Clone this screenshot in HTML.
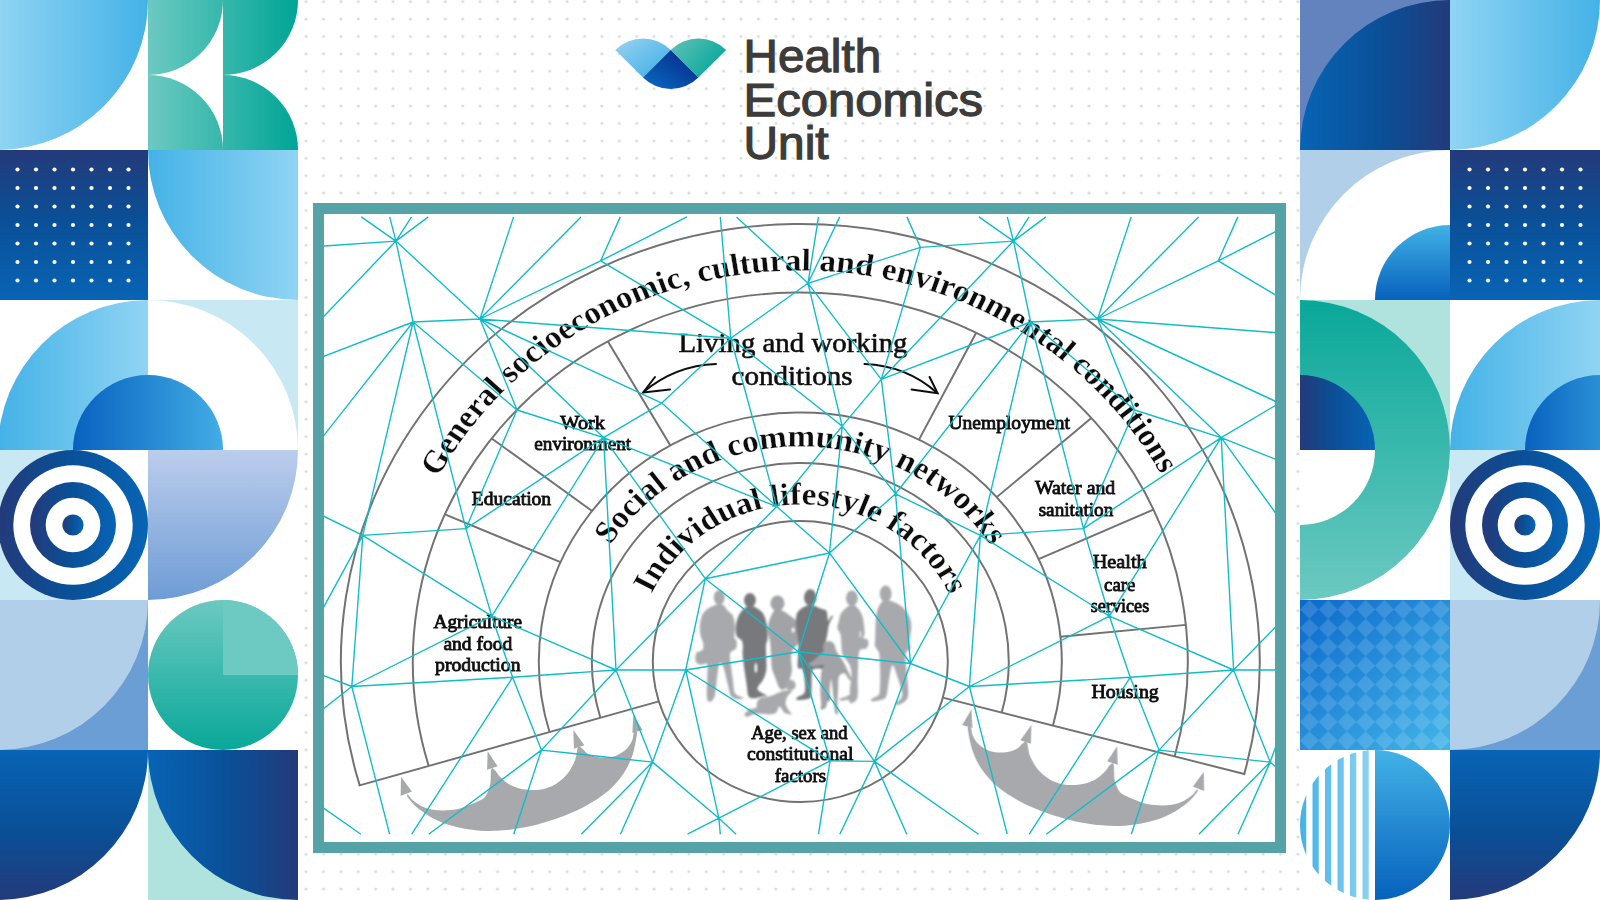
<!DOCTYPE html>
<html><head><meta charset="utf-8"><title>Health Economics Unit</title>
<style>html,body{margin:0;padding:0;background:#fff;overflow:hidden}svg{display:block}text{font-family:"Liberation Serif",serif}.lg text{font-family:"Liberation Sans",sans-serif}</style></head><body>
<svg width="1600" height="900" viewBox="0 0 1600 900">

<defs>
 <linearGradient id="gLB" x1="0" x2="1" y1="0" y2="0"><stop offset="0" stop-color="#90d4f3"/><stop offset="1" stop-color="#44b2e7"/></linearGradient>
 <linearGradient id="gLBr" x1="0" x2="1" y1="0" y2="0"><stop offset="0" stop-color="#44b2e7"/><stop offset="1" stop-color="#90d4f3"/></linearGradient>
 <linearGradient id="gTealH" x1="0" x2="1" y1="0" y2="0"><stop offset="0" stop-color="#6cc9c1"/><stop offset="1" stop-color="#00a596"/></linearGradient>
 <linearGradient id="gTealV" x1="0" x2="0" y1="0" y2="1"><stop offset="0" stop-color="#6cc9c1"/><stop offset="1" stop-color="#09a899"/></linearGradient>
 <linearGradient id="gTealVr" x1="0" x2="0" y1="0" y2="1"><stop offset="0" stop-color="#09a899"/><stop offset="1" stop-color="#6cc9c1"/></linearGradient>
 <linearGradient id="gNavyV" x1="0" x2="0" y1="0" y2="1"><stop offset="0" stop-color="#243a7a"/><stop offset="0.45" stop-color="#0a4f96"/><stop offset="1" stop-color="#0864b5"/></linearGradient>
 <linearGradient id="gNavyVr" x1="0" x2="0" y1="0" y2="1"><stop offset="0" stop-color="#0864b5"/><stop offset="0.55" stop-color="#0a4f96"/><stop offset="1" stop-color="#243a7a"/></linearGradient>
 <linearGradient id="gNavyH" x1="0" x2="1" y1="0" y2="0"><stop offset="0" stop-color="#243a7a"/><stop offset="0.45" stop-color="#0a4f96"/><stop offset="1" stop-color="#0864b5"/></linearGradient>
 <linearGradient id="gNavyHr" x1="0" x2="1" y1="0" y2="0"><stop offset="0" stop-color="#0864b5"/><stop offset="0.55" stop-color="#0a4f96"/><stop offset="1" stop-color="#243a7a"/></linearGradient>
 <linearGradient id="gBlueH" x1="0" x2="1" y1="0" y2="0"><stop offset="0" stop-color="#0861bf"/><stop offset="1" stop-color="#42ade5"/></linearGradient>
 <linearGradient id="gBlueV" x1="0" x2="0" y1="0" y2="1"><stop offset="0" stop-color="#42b2e6"/><stop offset="1" stop-color="#0661bc"/></linearGradient>
 <linearGradient id="gPeriV" x1="0" x2="0" y1="0" y2="1"><stop offset="0" stop-color="#bccdec"/><stop offset="1" stop-color="#6d9cd5"/></linearGradient>
 <linearGradient id="gDiag" x1="0" x2="1" y1="0" y2="1"><stop offset="0" stop-color="#0a68cb"/><stop offset="1" stop-color="#43b6e8"/></linearGradient>
 <pattern id="pDia" x="1300" y="600" width="18.75" height="18.75" patternUnits="userSpaceOnUse"><path d="M9.375 0L18.75 9.375L9.375 18.75L0 9.375Z" fill="#fff" fill-opacity="0.14"/></pattern>
 <pattern id="pDots" x="1.6" y="-7.1" width="17.4" height="17.4" patternUnits="userSpaceOnUse"><circle cx="8.7" cy="8.7" r="1.55" fill="#dbdbdb"/></pattern>
 <linearGradient id="gLogoL" x1="0" x2="1" y1="0" y2="1"><stop offset="0" stop-color="#9ad3f1"/><stop offset="1" stop-color="#38ade6"/></linearGradient>
 <linearGradient id="gLogoR" x1="0" x2="1" y1="0" y2="0.6"><stop offset="0" stop-color="#63c3b8"/><stop offset="1" stop-color="#07a69a"/></linearGradient>
 <linearGradient id="gLogoD" x1="0" x2="1" y1="1" y2="0"><stop offset="0" stop-color="#0a6cc6"/><stop offset="0.6" stop-color="#07409c"/><stop offset="1" stop-color="#0a2d8a"/></linearGradient>
 <clipPath id="cFrame"><rect x="324" y="214" width="951" height="628"/></clipPath>
</defs>


<defs>
 <linearGradient id="gTK" gradientUnits="userSpaceOnUse" x1="148" x2="298" y1="0" y2="0"><stop offset="0" stop-color="#6cc9c1"/><stop offset="1" stop-color="#00a596"/></linearGradient>
 <linearGradient id="gLBr2" x1="0" x2="1" y1="0" y2="0"><stop offset="0" stop-color="#4cb4e8"/><stop offset="1" stop-color="#a3dbf5"/></linearGradient>
 <linearGradient id="gBlueH2" x1="0" x2="1" y1="0" y2="0"><stop offset="0" stop-color="#0861bf"/><stop offset="1" stop-color="#2b90d6"/></linearGradient>
 <linearGradient id="gTealVr2" gradientUnits="userSpaceOnUse" x1="0" x2="0" y1="300" y2="600"><stop offset="0" stop-color="#09a899"/><stop offset="1" stop-color="#6cc9c1"/></linearGradient>
 <linearGradient id="gStripe" gradientUnits="userSpaceOnUse" x1="1300" x2="1375" y1="0" y2="0"><stop offset="0" stop-color="#44b2e7"/><stop offset="1" stop-color="#90d4f3"/></linearGradient>
</defs>

<rect x="0" y="0" width="1600" height="900" fill="#fff"/>
<rect x="298" y="0" width="1002" height="900" fill="url(#pDots)"/>
<rect x="-2" y="0" width="300" height="900" fill="#fff"/>
<path d="M-2 0L148 0A150 150 0 0 1 -2 150Z" fill="url(#gLB)"/>
<path d="M148 0L223 0A75 75 0 0 1 148 75Z" fill="url(#gTK)"/>
<path d="M148 150L223 150A75 75 0 0 0 148 75Z" fill="url(#gTK)"/>
<path d="M223 0L298 0A75 75 0 0 1 223 75Z" fill="url(#gTK)"/>
<path d="M223 150L298 150A75 75 0 0 0 223 75Z" fill="url(#gTK)"/>
<rect x="-2" y="150" width="150" height="150" fill="url(#gNavyV)"/><circle cx="17.5" cy="169.5" r="2.1" fill="#fff"/><circle cx="17.5" cy="188" r="2.1" fill="#fff"/><circle cx="17.5" cy="206.5" r="2.1" fill="#fff"/><circle cx="17.5" cy="225" r="2.1" fill="#fff"/><circle cx="17.5" cy="243.5" r="2.1" fill="#fff"/><circle cx="17.5" cy="262" r="2.1" fill="#fff"/><circle cx="17.5" cy="280.5" r="2.1" fill="#fff"/><circle cx="36" cy="169.5" r="2.1" fill="#fff"/><circle cx="36" cy="188" r="2.1" fill="#fff"/><circle cx="36" cy="206.5" r="2.1" fill="#fff"/><circle cx="36" cy="225" r="2.1" fill="#fff"/><circle cx="36" cy="243.5" r="2.1" fill="#fff"/><circle cx="36" cy="262" r="2.1" fill="#fff"/><circle cx="36" cy="280.5" r="2.1" fill="#fff"/><circle cx="54.5" cy="169.5" r="2.1" fill="#fff"/><circle cx="54.5" cy="188" r="2.1" fill="#fff"/><circle cx="54.5" cy="206.5" r="2.1" fill="#fff"/><circle cx="54.5" cy="225" r="2.1" fill="#fff"/><circle cx="54.5" cy="243.5" r="2.1" fill="#fff"/><circle cx="54.5" cy="262" r="2.1" fill="#fff"/><circle cx="54.5" cy="280.5" r="2.1" fill="#fff"/><circle cx="73" cy="169.5" r="2.1" fill="#fff"/><circle cx="73" cy="188" r="2.1" fill="#fff"/><circle cx="73" cy="206.5" r="2.1" fill="#fff"/><circle cx="73" cy="225" r="2.1" fill="#fff"/><circle cx="73" cy="243.5" r="2.1" fill="#fff"/><circle cx="73" cy="262" r="2.1" fill="#fff"/><circle cx="73" cy="280.5" r="2.1" fill="#fff"/><circle cx="91.5" cy="169.5" r="2.1" fill="#fff"/><circle cx="91.5" cy="188" r="2.1" fill="#fff"/><circle cx="91.5" cy="206.5" r="2.1" fill="#fff"/><circle cx="91.5" cy="225" r="2.1" fill="#fff"/><circle cx="91.5" cy="243.5" r="2.1" fill="#fff"/><circle cx="91.5" cy="262" r="2.1" fill="#fff"/><circle cx="91.5" cy="280.5" r="2.1" fill="#fff"/><circle cx="110" cy="169.5" r="2.1" fill="#fff"/><circle cx="110" cy="188" r="2.1" fill="#fff"/><circle cx="110" cy="206.5" r="2.1" fill="#fff"/><circle cx="110" cy="225" r="2.1" fill="#fff"/><circle cx="110" cy="243.5" r="2.1" fill="#fff"/><circle cx="110" cy="262" r="2.1" fill="#fff"/><circle cx="110" cy="280.5" r="2.1" fill="#fff"/><circle cx="128.5" cy="169.5" r="2.1" fill="#fff"/><circle cx="128.5" cy="188" r="2.1" fill="#fff"/><circle cx="128.5" cy="206.5" r="2.1" fill="#fff"/><circle cx="128.5" cy="225" r="2.1" fill="#fff"/><circle cx="128.5" cy="243.5" r="2.1" fill="#fff"/><circle cx="128.5" cy="262" r="2.1" fill="#fff"/><circle cx="128.5" cy="280.5" r="2.1" fill="#fff"/>
<path d="M298 150L148 150A150 150 0 0 0 298 300Z" fill="url(#gLBr)"/>
<path d="M148 450L-2 450A150 150 0 0 1 148 300Z" fill="url(#gLBr)"/>
<rect x="148" y="300" width="150" height="150" fill="#c8e8f4"/>
<path d="M148 450L298 450A150 150 0 0 0 148 300Z" fill="#fff"/>
<path d="M73 450A75 75 0 0 1 223 450Z" fill="url(#gBlueH)"/>
<rect x="-2" y="450" width="75" height="150" fill="#c8e8f4"/><rect x="73" y="450" width="75" height="150" fill="#fff"/><circle cx="73" cy="525" r="75" fill="url(#gNavyH)"/><circle cx="73" cy="525" r="59.7" fill="#fff"/><circle cx="73" cy="525" r="43" fill="url(#gNavyH)"/><circle cx="73" cy="525" r="27.3" fill="#fff"/><circle cx="73" cy="525" r="10.6" fill="url(#gNavyH)"/>
<path d="M148 450L298 450A150 150 0 0 1 148 600Z" fill="url(#gPeriV)"/>
<rect x="-2" y="600" width="150" height="150" fill="#6b9ed5"/>
<path d="M-2 600L148 600A150 150 0 0 1 -2 750Z" fill="#b2cfea"/>
<circle cx="223" cy="675" r="75" fill="url(#gTealV)"/>
<path d="M223 675L298 675A75 75 0 0 0 223 600Z" fill="#6ccac3"/>
<path d="M-2 750L148 750A150 150 0 0 1 -2 900Z" fill="url(#gNavyVr)"/>
<rect x="148" y="750" width="150" height="150" fill="#b1e3de"/>
<path d="M298 750L148 750A150 150 0 0 0 298 900Z" fill="url(#gNavyHr)"/>
<rect x="1300" y="0" width="300" height="900" fill="#fff"/>
<rect x="1300" y="0" width="150" height="150" fill="#6283bd"/>
<path d="M1450 150L1300 150A150 150 0 0 1 1450 0Z" fill="url(#gNavyHr)"/>
<path d="M1450 0L1600 0A150 150 0 0 1 1450 150Z" fill="url(#gLB)"/>
<rect x="1300" y="150" width="150" height="150" fill="#b2cfea"/>
<path d="M1450 300L1300 300A150 150 0 0 1 1450 150Z" fill="#fff"/>
<path d="M1450 300L1375 300A75 75 0 0 1 1450 225Z" fill="url(#gBlueV)"/>
<rect x="1450" y="150" width="150" height="150" fill="url(#gNavyV)"/><circle cx="1469.5" cy="169.5" r="2.1" fill="#fff"/><circle cx="1469.5" cy="188" r="2.1" fill="#fff"/><circle cx="1469.5" cy="206.5" r="2.1" fill="#fff"/><circle cx="1469.5" cy="225" r="2.1" fill="#fff"/><circle cx="1469.5" cy="243.5" r="2.1" fill="#fff"/><circle cx="1469.5" cy="262" r="2.1" fill="#fff"/><circle cx="1469.5" cy="280.5" r="2.1" fill="#fff"/><circle cx="1488" cy="169.5" r="2.1" fill="#fff"/><circle cx="1488" cy="188" r="2.1" fill="#fff"/><circle cx="1488" cy="206.5" r="2.1" fill="#fff"/><circle cx="1488" cy="225" r="2.1" fill="#fff"/><circle cx="1488" cy="243.5" r="2.1" fill="#fff"/><circle cx="1488" cy="262" r="2.1" fill="#fff"/><circle cx="1488" cy="280.5" r="2.1" fill="#fff"/><circle cx="1506.5" cy="169.5" r="2.1" fill="#fff"/><circle cx="1506.5" cy="188" r="2.1" fill="#fff"/><circle cx="1506.5" cy="206.5" r="2.1" fill="#fff"/><circle cx="1506.5" cy="225" r="2.1" fill="#fff"/><circle cx="1506.5" cy="243.5" r="2.1" fill="#fff"/><circle cx="1506.5" cy="262" r="2.1" fill="#fff"/><circle cx="1506.5" cy="280.5" r="2.1" fill="#fff"/><circle cx="1525" cy="169.5" r="2.1" fill="#fff"/><circle cx="1525" cy="188" r="2.1" fill="#fff"/><circle cx="1525" cy="206.5" r="2.1" fill="#fff"/><circle cx="1525" cy="225" r="2.1" fill="#fff"/><circle cx="1525" cy="243.5" r="2.1" fill="#fff"/><circle cx="1525" cy="262" r="2.1" fill="#fff"/><circle cx="1525" cy="280.5" r="2.1" fill="#fff"/><circle cx="1543.5" cy="169.5" r="2.1" fill="#fff"/><circle cx="1543.5" cy="188" r="2.1" fill="#fff"/><circle cx="1543.5" cy="206.5" r="2.1" fill="#fff"/><circle cx="1543.5" cy="225" r="2.1" fill="#fff"/><circle cx="1543.5" cy="243.5" r="2.1" fill="#fff"/><circle cx="1543.5" cy="262" r="2.1" fill="#fff"/><circle cx="1543.5" cy="280.5" r="2.1" fill="#fff"/><circle cx="1562" cy="169.5" r="2.1" fill="#fff"/><circle cx="1562" cy="188" r="2.1" fill="#fff"/><circle cx="1562" cy="206.5" r="2.1" fill="#fff"/><circle cx="1562" cy="225" r="2.1" fill="#fff"/><circle cx="1562" cy="243.5" r="2.1" fill="#fff"/><circle cx="1562" cy="262" r="2.1" fill="#fff"/><circle cx="1562" cy="280.5" r="2.1" fill="#fff"/><circle cx="1580.5" cy="169.5" r="2.1" fill="#fff"/><circle cx="1580.5" cy="188" r="2.1" fill="#fff"/><circle cx="1580.5" cy="206.5" r="2.1" fill="#fff"/><circle cx="1580.5" cy="225" r="2.1" fill="#fff"/><circle cx="1580.5" cy="243.5" r="2.1" fill="#fff"/><circle cx="1580.5" cy="262" r="2.1" fill="#fff"/><circle cx="1580.5" cy="280.5" r="2.1" fill="#fff"/>
<rect x="1300" y="300" width="150" height="150" fill="#b1e3de"/>
<path d="M1300 450L1450 450A150 150 0 0 0 1300 300Z" fill="url(#gTealVr2)"/>
<path d="M1300 450L1375 450A75 75 0 0 0 1300 375Z" fill="url(#gNavyH)"/>
<path d="M1600 450L1450 450A150 150 0 0 1 1600 300Z" fill="url(#gLBr)"/>
<path d="M1600 450L1525 450A75 75 0 0 1 1600 375Z" fill="url(#gBlueH2)"/>
<path d="M1300 450L1450 450A150 150 0 0 1 1300 600Z" fill="url(#gTealVr2)"/>
<path d="M1300 450L1375 450A75 75 0 0 1 1300 525Z" fill="#fff"/>
<rect x="1450" y="450" width="75" height="150" fill="#c8e8f4"/><rect x="1525" y="450" width="75" height="150" fill="#fff"/><circle cx="1525" cy="525" r="75" fill="url(#gNavyH)"/><circle cx="1525" cy="525" r="59.7" fill="#fff"/><circle cx="1525" cy="525" r="43" fill="url(#gNavyH)"/><circle cx="1525" cy="525" r="27.3" fill="#fff"/><circle cx="1525" cy="525" r="10.6" fill="url(#gNavyH)"/>
<rect x="1300" y="600" width="150" height="150" fill="url(#gDiag)"/>
<rect x="1300" y="600" width="150" height="150" fill="url(#pDia)"/>
<rect x="1450" y="600" width="150" height="150" fill="#6b9ed5"/>
<path d="M1450 600L1600 600A150 150 0 0 1 1450 750Z" fill="#b2cfea"/>
<clipPath id="cStr"><circle cx="1375" cy="825" r="75"/></clipPath><g clip-path="url(#cStr)">
<rect x="1300" y="750" width="6.25" height="150" fill="url(#gStripe)"/>
<rect x="1312.5" y="750" width="6.25" height="150" fill="url(#gStripe)"/>
<rect x="1325" y="750" width="6.25" height="150" fill="url(#gStripe)"/>
<rect x="1337.5" y="750" width="6.25" height="150" fill="url(#gStripe)"/>
<rect x="1350" y="750" width="6.25" height="150" fill="url(#gStripe)"/>
<rect x="1362.5" y="750" width="6.25" height="150" fill="url(#gStripe)"/>
<rect x="1375" y="750" width="75" height="150" fill="url(#gBlueV)"/>
</g>
<path d="M1450 750L1600 750A150 150 0 0 1 1450 900Z" fill="url(#gNavyVr)"/>
<path d="M643 77.6L615.28 49.88A39.2 39.2 0 0 1 670.72 49.88Z" fill="url(#gLogoL)"/>
<path d="M698.4 77.6L670.68 49.88A39.2 39.2 0 0 1 726.12 49.88Z" fill="url(#gLogoR)"/>
<path d="M670.7 49.9L698.42 77.62A39.2 39.2 0 0 1 642.98 77.62Z" fill="url(#gLogoD)"/>
<g font-size="46" fill="#3c3c3b" stroke="#3c3c3b" stroke-width="1.25" class="lg"><text x="743.6" y="72" textLength="137.5" lengthAdjust="spacingAndGlyphs">Health</text><text x="743.6" y="115.5" textLength="239.5" lengthAdjust="spacingAndGlyphs">Economics</text><text x="743.6" y="159" textLength="85" lengthAdjust="spacingAndGlyphs">Unit</text></g>
<rect x="313" y="203" width="973" height="650" fill="#55a3a6"/>
<rect x="324" y="214" width="951" height="628" fill="#fff"/>
<g clip-path="url(#cFrame)">
<defs><filter id="fBlur1" x="-5%" y="-5%" width="110%" height="110%"><feGaussianBlur stdDeviation="0.85"/></filter><filter id="fBlur2" x="-5%" y="-5%" width="110%" height="110%"><feGaussianBlur stdDeviation="0.5"/></filter><filter id="fBlur3" x="-5%" y="-5%" width="110%" height="110%"><feGaussianBlur stdDeviation="0.45"/></filter></defs>
<g transform="translate(800.3 661.5) scale(1.05 1)">
<g fill="none" stroke="#727272" stroke-width="1.9" filter="url(#fBlur2)">
<path d="M-419.59 123.89A437.5 437.5 0 1 1 422.79 112.5"/>
<path d="M-353.9 104.49A369 369 0 1 1 356.59 94.88"/>
<path d="M-238.81 70.51A249 249 0 1 1 240.63 64.03"/>
<path d="M-190.37 56.21A198.5 198.5 0 1 1 191.83 51.04"/>
<circle cx="0" cy="0" r="140.5"/>
<path d="M-134.75 39.79L-420.55 124.17"/>
<path d="M135.78 36.13L423.76 112.75"/>
<path d="M-228.35 -99.29L-338.4 -147.14"/>
<path d="M-198.34 -150.55L-293.92 -223.1"/>
<path d="M-123.75 -216.07L-183.38 -320.21"/>
<path d="M113.04 -221.86L167.52 -328.78"/>
<path d="M187.06 -164.34L277.22 -243.54"/>
<path d="M226.94 -102.47L336.31 -151.85"/>
<path d="M247.77 -24.73L367.18 -36.65"/>
</g>
<defs>
<path id="tp1" d="M-344.91 -184.17A391 391 0 0 1 343.29 -187.17"/>
<path id="tp2" d="M-180.72 -116.47A215 215 0 0 1 181.13 -115.84"/>
<path id="tp3" d="M-141.59 -67.84A157 157 0 0 1 142.06 -66.85"/>
</defs>
<g font-weight="bold" font-size="31.5" fill="#0c0c0c" stroke="#fff" stroke-width="0.25" paint-order="fill stroke" filter="url(#fBlur3)">
<text textLength="841.43" lengthAdjust="spacing"><textPath href="#tp1" textLength="841.43" lengthAdjust="spacing">General socioeconomic, cultural and environmental conditions</textPath></text>
<text textLength="430.03" lengthAdjust="spacing"><textPath href="#tp2" textLength="430.03" lengthAdjust="spacing">Social and community networks</textPath></text>
<text textLength="354.03" lengthAdjust="spacing"><textPath href="#tp3" textLength="354.03" lengthAdjust="spacing">Individual lifestyle factors</textPath></text>
</g>
</g>
<g filter="url(#fBlur1)"><ellipse cx="719.26" cy="597.43" rx="5.45" ry="7.47" fill="#a7a9ac"/><path d="M715.37 604.9C712.28 605.94 707.25 608.53 704.79 611.13C702.32 613.72 701.36 616.84 700.58 620.47C699.81 624.1 699.68 629.03 700.12 632.92C700.56 636.81 702.84 640.96 703.23 643.81C703.62 646.67 703.62 648.48 702.45 650.04C701.28 651.6 697.32 651.21 696.23 653.15C695.14 655.1 695.14 659.77 695.91 661.71C696.69 663.66 699.03 664.44 700.89 664.82C702.76 665.21 706.03 662.62 707.12 664.05C708.21 665.47 707.48 669.23 707.43 673.39C707.38 677.54 706.81 684.54 706.81 688.95C706.81 693.36 706.73 697.77 707.43 699.84C708.13 701.92 709.77 702.18 711.01 701.4C712.26 700.62 713.87 699.33 714.9 695.18C715.94 691.02 716.46 681.82 717.24 676.5C718.02 671.18 718.53 664.82 719.57 663.27C720.61 661.71 722.04 663.4 723.46 667.16C724.89 670.92 726.91 681.04 728.13 685.84C729.35 690.64 729.35 693.75 730.78 695.95C732.2 698.16 734.54 698.73 736.69 699.07C738.85 699.4 743.96 698.88 743.7 697.98C743.44 697.07 736.95 696.68 735.14 693.62C733.32 690.56 733.53 684.54 732.8 679.61C732.08 674.68 731.22 668.46 730.78 664.05C730.34 659.64 729.3 655.75 730.16 653.15C731.01 650.56 734.82 650.43 735.91 648.48C737 646.54 736.95 643.29 736.69 641.48C736.43 639.66 734.62 640.05 734.36 637.59C734.1 635.12 735.4 630.32 735.14 626.69C734.88 623.06 734.1 618.52 732.8 615.8C731.5 613.07 728.94 612.17 727.35 610.35C725.77 608.53 725.3 605.81 723.31 604.9C721.31 603.99 718.46 603.87 715.37 604.9Z" fill="#a7a9ac"/><ellipse cx="777.47" cy="603.35" rx="7" ry="7.78" fill="#a1a3a6"/><path d="M775.29 609.57C772.96 611.13 770.62 616.84 769.38 620.47C768.13 624.1 767.69 627.73 767.82 631.36C767.95 634.99 769.64 638.63 770.16 642.26C770.67 645.89 770.67 649 770.93 653.15C771.19 657.3 771.06 663.27 771.71 667.16C772.36 671.05 773.4 672.87 774.82 676.5C776.25 680.13 778.33 687.13 780.27 688.95C782.22 690.77 784.94 688.95 786.5 687.39C788.05 685.84 788.7 682.46 789.61 679.61C790.52 676.76 791.69 673.39 791.95 670.27C792.2 667.16 791.17 664.05 791.17 660.93C791.17 657.82 790.65 654.71 791.95 651.6C793.24 648.48 797.21 645.63 798.95 642.26C800.69 638.88 802.37 634.47 802.37 631.36C802.37 628.25 800.82 626.04 798.95 623.58C797.08 621.12 793.76 618.65 791.17 616.58C788.57 614.5 786.03 612.3 783.39 611.13C780.74 609.96 777.63 608.02 775.29 609.57Z" fill="#a1a3a6"/><ellipse cx="793.19" cy="630.12" rx="1.4" ry="2.33" fill="#fff"/><ellipse cx="790.39" cy="685.06" rx="5.29" ry="5.29" fill="#a7a9ac"/><path d="M783.39 690.82C779.88 691.67 774.82 694.71 770.93 695.95C767.04 697.2 762.37 697.12 760.04 698.29C757.7 699.46 757.57 701.4 756.93 702.96C756.28 704.51 757.44 706.59 756.15 707.63C754.85 708.66 751.09 708.02 749.14 709.18C747.2 710.35 744.73 713.39 744.47 714.63C744.22 715.88 745.51 716.78 747.59 716.65C749.66 716.52 753.04 714.27 756.93 713.85C760.82 713.44 767.69 714.42 770.93 714.16C774.18 713.9 774.95 713.59 776.38 712.3C777.81 711 778.07 706.25 779.49 706.38C780.92 706.51 782.87 711.78 784.94 713.07C787.02 714.37 791.17 714.42 791.95 714.16C792.72 713.9 790.65 713.13 789.61 711.52C788.57 709.91 786.11 706.98 785.72 704.51C785.33 702.05 786.24 699.01 787.28 696.73C788.31 694.45 792.59 691.8 791.95 690.82C791.3 689.83 786.89 689.96 783.39 690.82Z" fill="#a7a9ac"/><ellipse cx="749.92" cy="600.23" rx="5.91" ry="7.16" fill="#77797d"/><path d="M746.96 606.46C744.68 607.63 741.65 610.35 739.81 613.46C737.96 616.58 736.43 621.37 735.91 625.14C735.4 628.9 735.78 633.57 736.69 636.03C737.6 638.5 740.32 638.37 741.36 639.92C742.4 641.48 742.71 642.91 742.92 645.37C743.13 647.83 742.35 650.56 742.61 654.71C742.87 658.86 743.77 665.08 744.47 670.27C745.18 675.46 746.16 681.56 746.81 685.84C747.46 690.12 747.2 693.88 748.37 695.95C749.53 698.03 751.61 698.21 753.81 698.29C756.02 698.37 759.39 696.81 761.6 696.42C763.8 696.03 767.43 696.81 767.04 695.95C766.65 695.1 760.82 692.71 759.26 691.28C757.7 689.86 757.06 689.34 757.7 687.39C758.35 685.45 761.73 682.46 763.15 679.61C764.58 676.76 765.75 673.9 766.26 670.27C766.78 666.64 766.32 661.97 766.26 657.82C766.21 653.67 765.75 648.48 765.95 645.37C766.16 642.26 767.33 642.26 767.51 639.14C767.69 636.03 767.77 630.97 767.04 626.69C766.32 622.41 765.41 616.84 763.15 613.46C760.89 610.09 756.2 607.63 753.5 606.46C750.8 605.29 749.25 605.29 746.96 606.46Z" fill="#77797d"/><ellipse cx="755.84" cy="667.94" rx="1.09" ry="4.67" fill="#fff"/><ellipse cx="810.22" cy="597.42" rx="6.22" ry="8.09" fill="#77797d"/><path d="M806.49 605.66C803.79 606.7 799.54 609.42 797.78 611.88C796.01 614.34 796.04 616.94 795.91 620.44C795.78 623.93 796.56 628.47 797 632.88C797.44 637.28 798.42 641.17 798.55 646.87C798.68 652.58 797.18 663.46 797.78 667.09C798.37 670.72 801.09 667.35 802.13 668.65C803.17 669.94 803.56 670.98 804 674.87C804.44 678.76 805.94 688.22 804.77 691.98C803.61 695.73 798.22 696.07 797 697.42C795.78 698.77 795.78 699.8 797.47 700.06C799.15 700.32 804.83 699.67 807.11 698.97C809.39 698.27 810.37 699.88 811.15 695.86C811.93 691.85 811.41 679.27 811.77 674.87C812.14 670.46 811.51 670.25 813.33 669.42C815.14 668.6 821.23 667.69 822.66 669.89C824.09 672.09 821.31 677.8 821.88 682.64C822.45 687.49 824.76 696.12 826.08 698.97C827.4 701.82 829.35 701.7 829.81 699.75C830.28 697.81 829.68 692.75 828.88 687.31C828.08 681.87 825.9 672.02 824.99 667.09C824.09 662.17 823.44 661.39 823.44 657.76C823.44 654.13 824.34 649.21 824.99 645.32C825.64 641.43 826.68 637.8 827.33 634.43C827.97 631.06 827.95 628.13 828.88 625.1C829.81 622.07 832.61 617.64 832.92 616.24C833.23 614.84 831.55 615.95 830.75 616.7C829.94 617.45 828.8 621.68 828.1 620.75C827.4 619.81 827.71 613.1 826.55 611.1C825.38 609.11 823.2 609.68 821.1 608.77C819 607.86 816.39 606.18 813.95 605.66C811.51 605.14 809.18 604.62 806.49 605.66Z" fill="#77797d"/><ellipse cx="851.9" cy="598.2" rx="5.91" ry="7.78" fill="#a7a9ac"/><path d="M849.25 605.66C846.95 606.83 843.03 610.2 841.32 612.66C839.61 615.12 839.64 617.84 838.99 620.44C838.34 623.03 837.17 625.88 837.43 628.21C837.69 630.54 839.9 631.58 840.54 634.43C841.19 637.28 841.06 642.21 841.32 645.32C841.58 648.43 841.58 651.02 842.1 653.09C842.62 655.17 843.27 655.95 844.43 657.76C845.6 659.57 847.93 661.39 849.1 663.98C850.26 666.57 851.3 669.17 851.43 673.31C851.56 677.46 850.26 685.24 849.88 688.86C849.49 692.49 850.78 693.4 849.1 695.09C847.41 696.77 841.06 698.04 839.77 698.97C838.47 699.91 839.9 700.55 841.32 700.68C842.75 700.81 846.89 699.39 848.32 699.75C849.75 700.11 848.97 702.45 849.88 702.86C850.78 703.28 852.47 703.28 853.76 702.24C855.06 701.2 857 700.17 857.65 696.64C858.3 693.12 857.57 686.01 857.65 681.09C857.73 676.16 857.99 670.98 858.12 667.09C858.25 663.2 858.12 660.61 858.43 657.76C858.74 654.91 858.69 651.54 859.98 649.98C861.28 648.43 864.78 649.47 866.21 648.43C867.63 647.39 868.41 645.32 868.54 643.76C868.67 642.21 867.89 640.01 866.98 639.1C866.08 638.19 863.48 639.36 863.09 638.32C862.71 637.28 864.65 636.12 864.65 632.88C864.65 629.64 863.87 622.51 863.09 618.88C862.32 615.25 861.31 613.31 859.98 611.1C858.66 608.9 856.95 606.57 855.16 605.66C853.37 604.75 851.56 604.49 849.25 605.66Z" fill="#a7a9ac"/><ellipse cx="860.3" cy="634.12" rx="0.62" ry="3.42" fill="#fff"/><ellipse cx="828.88" cy="646.87" rx="5.91" ry="5.91" fill="#a1a3a6"/><path d="M823.44 651.54C820.12 654.39 815.79 658.8 813.33 660.87C810.87 662.94 808.66 663.05 808.66 663.98C808.66 664.91 810.87 666.31 813.33 666.47C815.79 666.63 822.14 663.77 823.44 664.91C824.73 666.05 821.62 669.32 821.1 673.31C820.59 677.3 820.33 683.68 820.33 688.86C820.33 694.05 821.1 701.05 821.1 704.42C821.1 707.79 819.68 708.41 820.33 709.08C820.97 709.76 823.83 709.5 824.99 708.46C826.16 707.42 826.55 706.13 827.33 702.86C828.1 699.6 829.01 692.75 829.66 688.86C830.31 684.98 830.57 677.98 831.21 679.53C831.86 681.09 832.9 692.75 833.55 698.2C834.19 703.64 834.32 709.6 835.1 712.19C835.88 714.78 837.82 715.04 838.21 713.75C838.6 712.45 837.43 708.82 837.43 704.42C837.43 700.01 837.95 691.98 838.21 687.31C838.47 682.64 837.95 678.76 838.99 676.42C840.03 674.09 842.75 672.79 844.43 673.31C846.12 673.83 847.91 678.5 849.1 679.53C850.29 680.57 851.85 681.09 851.59 679.53C851.33 677.98 848.99 673.31 847.54 670.2C846.09 667.09 844.69 663.98 842.88 660.87C841.06 657.76 838.26 654.39 836.66 651.54C835.05 648.69 835.44 643.76 833.23 643.76C831.03 643.76 826.75 648.69 823.44 651.54Z" fill="#a1a3a6"/><ellipse cx="885.65" cy="593.69" rx="5.91" ry="8.09" fill="#a7a9ac"/><path d="M883 601C880.8 602.29 879.06 605.79 877.87 608.77C876.68 611.75 876.29 613.83 875.85 618.88C875.41 623.93 875.41 634.69 875.23 639.1C875.04 643.5 874.32 643.37 874.76 645.32C875.2 647.26 877.09 649.21 877.87 650.76C878.65 652.32 879.04 650.89 879.42 654.65C879.81 658.41 880.12 667.61 880.2 673.31C880.28 679.02 880.15 685.24 879.89 688.86C879.63 692.49 880.02 693.4 878.65 695.09C877.27 696.77 872.69 697.94 871.65 698.97C870.61 700.01 870.74 701.18 872.43 701.31C874.11 701.44 879.42 700.66 881.76 699.75C884.09 698.84 885.13 699.75 886.42 695.86C887.72 691.98 888.5 681.53 889.53 676.42C890.57 671.32 891.35 665.23 892.64 665.23C893.94 665.23 895.75 671.96 897.31 676.42C898.86 680.88 901.33 688.35 901.98 691.98C902.62 695.6 902.23 696.38 901.2 698.2C900.16 700.01 896.4 701.67 895.75 702.86C895.11 704.05 895.75 705.61 897.31 705.35C898.86 705.09 903.27 703.02 905.09 701.31C906.9 699.6 907.81 698.71 908.2 695.09C908.58 691.46 907.81 684.72 907.42 679.53C907.03 674.35 906.12 668.39 905.86 663.98C905.6 659.57 905.09 655.69 905.86 653.09C906.64 650.5 909.93 650.24 910.53 648.43C911.12 646.61 909.31 645.84 909.44 642.21C909.57 638.58 911.38 631.06 911.31 626.66C911.23 622.25 910.53 619.09 908.97 615.77C907.42 612.45 904.96 609.21 901.98 606.75C898.99 604.29 894.25 601.95 891.09 601C887.93 600.04 885.2 599.7 883 601Z" fill="#a7a9ac"/></g>
<g filter="url(#fBlur3)">
<path d="M406.95 795.71C407.27 796.61 408.53 798.36 409.93 800.08C411.33 801.8 413.34 804.16 415.35 806.03C417.36 807.9 419.55 809.5 422 811.28C424.45 813.06 426.93 814.93 430.05 816.71C433.17 818.49 437.4 820.53 440.73 821.96C444.05 823.39 446.24 824.17 450 825.28C453.77 826.39 459.07 827.79 463.3 828.61C467.53 829.42 471.18 829.8 475.38 830.18C479.58 830.56 482.23 831.06 488.51 830.88C494.78 830.71 504.84 830.21 513.01 829.13C521.17 828.05 529.05 826.59 537.51 824.41C545.97 822.22 555.59 819.16 563.76 816.01C571.93 812.86 579.22 809.59 586.51 805.51C593.8 801.42 601.39 796.76 607.51 791.51C613.64 786.25 619.18 779.84 623.26 774C627.35 768.17 629.91 762.05 632.01 756.5C634.11 750.96 635.05 744.84 635.86 740.75C636.68 736.67 637.26 733.31 636.91 732C636.56 730.69 634.58 731.42 633.76 732.88C632.95 734.34 633.33 737.98 632.01 740.75C630.7 743.52 628.8 746.94 625.89 749.5C622.97 752.07 618.74 754.84 614.51 756.15C610.28 757.47 604.89 757.76 600.51 757.38C596.14 757 591.47 755.48 588.26 753.88C585.05 752.27 583.01 748.77 581.26 747.75C579.51 746.73 578.78 745.71 577.76 747.75C576.74 749.79 576.88 755.63 575.13 760C573.38 764.38 570.61 769.92 567.26 774C563.91 778.09 559.38 781.94 555.01 784.5C550.63 787.07 545.97 788.59 541.01 789.4C536.05 790.22 530.22 790.08 525.26 789.4C520.3 788.73 515.34 787.36 511.26 785.38C507.17 783.4 503.53 780.13 500.76 777.5C497.99 774.88 496.23 770.94 494.63 769.63C493.03 768.32 491.86 767.15 491.13 769.63C490.4 772.11 491.22 780.04 490.26 784.5C489.29 788.97 487.4 793.61 485.36 796.41C483.31 799.21 480.57 799.93 478 801.31C475.44 802.68 473.51 803.29 469.95 804.63C466.4 805.97 461.09 808.39 456.65 809.36C452.22 810.32 447.35 810.35 443.35 810.41C439.36 810.46 435.8 810.17 432.68 809.71C429.56 809.24 427.08 808.57 424.63 807.61C422.18 806.64 420.08 805.3 417.98 803.93C415.88 802.56 413.69 800.93 412.03 799.38C410.36 797.83 408.85 795.27 408 794.66C407.16 794.04 406.63 794.8 406.95 795.71Z" fill="#a7a9ac"/><path d="M401 776.63L400.65 795.88L411.85 791.51Z" fill="#a7a9ac"/><path d="M487.63 751.25L487.11 769.63L497.61 766.13Z" fill="#a7a9ac"/><path d="M573.38 729.9L573.91 748.63L584.41 745.13Z" fill="#a7a9ac"/><path d="M633.41 714.5L632.36 732.88L642.51 729.9Z" fill="#a7a9ac"/>
<g transform="translate(1604.8 -5) scale(-1 1)"><path d="M406.95 795.71C407.27 796.61 408.53 798.36 409.93 800.08C411.33 801.8 413.34 804.16 415.35 806.03C417.36 807.9 419.55 809.5 422 811.28C424.45 813.06 426.93 814.93 430.05 816.71C433.17 818.49 437.4 820.53 440.73 821.96C444.05 823.39 446.24 824.17 450 825.28C453.77 826.39 459.07 827.79 463.3 828.61C467.53 829.42 471.18 829.8 475.38 830.18C479.58 830.56 482.23 831.06 488.51 830.88C494.78 830.71 504.84 830.21 513.01 829.13C521.17 828.05 529.05 826.59 537.51 824.41C545.97 822.22 555.59 819.16 563.76 816.01C571.93 812.86 579.22 809.59 586.51 805.51C593.8 801.42 601.39 796.76 607.51 791.51C613.64 786.25 619.18 779.84 623.26 774C627.35 768.17 629.91 762.05 632.01 756.5C634.11 750.96 635.05 744.84 635.86 740.75C636.68 736.67 637.26 733.31 636.91 732C636.56 730.69 634.58 731.42 633.76 732.88C632.95 734.34 633.33 737.98 632.01 740.75C630.7 743.52 628.8 746.94 625.89 749.5C622.97 752.07 618.74 754.84 614.51 756.15C610.28 757.47 604.89 757.76 600.51 757.38C596.14 757 591.47 755.48 588.26 753.88C585.05 752.27 583.01 748.77 581.26 747.75C579.51 746.73 578.78 745.71 577.76 747.75C576.74 749.79 576.88 755.63 575.13 760C573.38 764.38 570.61 769.92 567.26 774C563.91 778.09 559.38 781.94 555.01 784.5C550.63 787.07 545.97 788.59 541.01 789.4C536.05 790.22 530.22 790.08 525.26 789.4C520.3 788.73 515.34 787.36 511.26 785.38C507.17 783.4 503.53 780.13 500.76 777.5C497.99 774.88 496.23 770.94 494.63 769.63C493.03 768.32 491.86 767.15 491.13 769.63C490.4 772.11 491.22 780.04 490.26 784.5C489.29 788.97 487.4 793.61 485.36 796.41C483.31 799.21 480.57 799.93 478 801.31C475.44 802.68 473.51 803.29 469.95 804.63C466.4 805.97 461.09 808.39 456.65 809.36C452.22 810.32 447.35 810.35 443.35 810.41C439.36 810.46 435.8 810.17 432.68 809.71C429.56 809.24 427.08 808.57 424.63 807.61C422.18 806.64 420.08 805.3 417.98 803.93C415.88 802.56 413.69 800.93 412.03 799.38C410.36 797.83 408.85 795.27 408 794.66C407.16 794.04 406.63 794.8 406.95 795.71Z" fill="#a7a9ac"/><path d="M401 776.63L400.65 795.88L411.85 791.51Z" fill="#a7a9ac"/><path d="M487.63 751.25L487.11 769.63L497.61 766.13Z" fill="#a7a9ac"/><path d="M573.38 729.9L573.91 748.63L584.41 745.13Z" fill="#a7a9ac"/><path d="M633.41 714.5L632.36 732.88L642.51 729.9Z" fill="#a7a9ac"/></g>
</g>
<g fill="#111" stroke="#111" stroke-width="0.6" filter="url(#fBlur3)">
<text x="793" y="352.2" text-anchor="middle" font-size="27.5" textLength="229" lengthAdjust="spacingAndGlyphs">Living and working</text>
<text x="792" y="385.3" text-anchor="middle" font-size="27.5" textLength="121" lengthAdjust="spacingAndGlyphs">conditions</text>
</g>
<g fill="none" stroke="#111" stroke-width="2" stroke-linecap="round" filter="url(#fBlur3)">
<path d="M716 364C690 365 665 374 643.5 392"/><path d="M655 377L643.2 392.4L670 389.4"/>
<path d="M864.5 364C890 365 916 374 937.2 393"/><path d="M929.6 377L937.6 393.3L911.5 389.6"/>
</g>
<g fill="#111" stroke="#111" stroke-width="0.85" filter="url(#fBlur3)">
<text x="582.7" y="428.7" text-anchor="middle" font-size="19.5" textLength="44.7" lengthAdjust="spacingAndGlyphs">Work</text>
<text x="582.7" y="449.5" text-anchor="middle" font-size="19.5" textLength="96.7" lengthAdjust="spacingAndGlyphs">environment</text>
<text x="511.5" y="505.2" text-anchor="middle" font-size="19.5" textLength="79.3" lengthAdjust="spacingAndGlyphs">Education</text>
<text x="477.8" y="627.6" text-anchor="middle" font-size="19.5" textLength="88.5" lengthAdjust="spacingAndGlyphs">Agriculture</text>
<text x="477.9" y="649.5" text-anchor="middle" font-size="19.5" textLength="69" lengthAdjust="spacingAndGlyphs">and food</text>
<text x="477.8" y="671.1" text-anchor="middle" font-size="19.5" textLength="85.5" lengthAdjust="spacingAndGlyphs">production</text>
<text x="1009.2" y="428.7" text-anchor="middle" font-size="19.5" textLength="121.6" lengthAdjust="spacingAndGlyphs">Unemployment</text>
<text x="1075.1" y="494" text-anchor="middle" font-size="19.5" textLength="80.4" lengthAdjust="spacingAndGlyphs">Water and</text>
<text x="1076" y="515.5" text-anchor="middle" font-size="19.5" textLength="74.7" lengthAdjust="spacingAndGlyphs">sanitation</text>
<text x="1119.7" y="568.3" text-anchor="middle" font-size="19.5" textLength="54" lengthAdjust="spacingAndGlyphs">Health</text>
<text x="1119.7" y="590.6" text-anchor="middle" font-size="19.5" textLength="31.3" lengthAdjust="spacingAndGlyphs">care</text>
<text x="1120" y="611.8" text-anchor="middle" font-size="19.5" textLength="58.5" lengthAdjust="spacingAndGlyphs">services</text>
<text x="1125.1" y="698.2" text-anchor="middle" font-size="19.5" textLength="67.3" lengthAdjust="spacingAndGlyphs">Housing</text>
<text x="799.4" y="738.7" text-anchor="middle" font-size="19.5" textLength="96.5" lengthAdjust="spacingAndGlyphs">Age, sex and</text>
<text x="800.2" y="760.4" text-anchor="middle" font-size="19.5" textLength="106.4" lengthAdjust="spacingAndGlyphs">constitutional</text>
<text x="800.4" y="782" text-anchor="middle" font-size="19.5" textLength="51.3" lengthAdjust="spacingAndGlyphs">factors</text>
</g>
<path d="M395.9 241.1L413.1 322M1013.5 241.1L1030.7 322M395.9 241.1L480 319M1013.5 241.1L1097.6 319M395.9 241.1L322 246.1M1013.5 241.1L920.4 247.4M395.9 241.1L322 318.4M1013.5 241.1L881.3 379.4M395.9 241.1L361.3 216.9M360.9 834.2L322 807M1013.5 241.1L978.9 216.9M978.5 834.2L874.5 761.4M395.9 241.1L389.7 216.9M389.6 834.2L351.8 686.5M1013.5 241.1L1007.3 216.9M1007.2 834.2L969.4 686.5M395.9 241.1L411.5 216.9M411.7 834.2L512.6 677.3M1013.5 241.1L1029.1 216.9M1029.3 834.2L1130.2 677.3M395.9 241.1L428.3 216.9M428.7 834.2L541.4 750.1M1013.5 241.1L1045.9 216.9M1046.3 834.2L1159 750.1M413.1 322L480 319M1030.7 322L1097.6 319M413.1 322L517 410M1030.7 322L1134.6 410M413.1 322L362.8 535.4M1030.7 322L980.4 535.4M413.1 322L465.9 528.6M1030.7 322L1083.5 528.6M413.1 322L322 357M1030.7 322L881.3 379.4M413.1 322L322 437.8M1030.7 322L895.5 493.8M480 319L517 410M1097.6 319L1134.6 410M480 319L600.7 260.8M1097.6 319L1218.3 260.8M480 319L730.8 338.3M1097.6 319L1277 332.8M480 319L661.8 403.1M1097.6 319L1277 402M480 319L603.6 437.6M1097.6 319L1221.2 437.6M480 319L513.6 216.9M513.7 834.2L541.4 750.1M1097.6 319L1131.2 216.9M1131.3 834.2L1159 750.1M480 319L581 216.9M581.3 834.2L652.6 762.1M1097.6 319L1198.6 216.9M1198.9 834.2L1270.2 762.1M517 410L465.9 528.6M1134.6 410L1083.5 528.6M517 410L603.6 437.6M1134.6 410L1221.2 437.6M600.7 260.8L730.8 338.3M1218.3 260.8L1277 295.8M600.7 260.8L620.3 216.9M620.4 834.2L652.6 762.1M1218.3 260.8L1237.9 216.9M1238 834.2L1270.2 762.1M600.7 260.8L686.9 216.9M687.5 834.2L718.9 818.2M1218.3 260.8L1277 230.9M730.8 338.3L661.8 403.1M730.8 338.3L808 283.3M730.8 338.3L842.2 426.1M730.8 338.3L776.7 506.6M730.8 338.3L720.3 216.9M720.3 834.2L718.9 818.2M661.8 403.1L603.6 437.6M1277 404.5L1221.2 437.6M661.8 403.1L776.7 506.6M808 283.3L920.4 247.4M808 283.3L881.3 379.4M808 283.3L842.2 426.1M808 283.3L736.5 216.9M736.1 834.2L718.9 818.2M808 283.3L818.5 216.9M818.5 834.2L830.1 760.8M808 283.3L839.7 216.9M839.8 834.2L874.5 761.4M920.4 247.4L881.3 379.4M920.4 247.4L906.9 216.9M906.8 834.2L874.5 761.4M881.3 379.4L842.2 426.1M881.3 379.4L895.5 493.8M842.2 426.1L776.7 506.6M842.2 426.1L895.5 493.8M842.2 426.1L829.5 553M362.8 535.4L465.9 528.6M980.4 535.4L1083.5 528.6M362.8 535.4L491.8 616.2M980.4 535.4L1109.4 616.2M362.8 535.4L351.8 686.5M980.4 535.4L969.4 686.5M362.8 535.4L322 515.4M980.4 535.4L895.5 493.8M362.8 535.4L322 610.2M980.4 535.4L910.5 663.5M465.9 528.6L491.8 616.2M1083.5 528.6L1109.4 616.2M465.9 528.6L603.6 437.6M1083.5 528.6L1221.2 437.6M491.8 616.2L603.6 437.6M1109.4 616.2L1221.2 437.6M491.8 616.2L351.8 686.5M1109.4 616.2L969.4 686.5M491.8 616.2L512.6 677.3M1109.4 616.2L1130.2 677.3M491.8 616.2L616 670M1109.4 616.2L1233.6 670M603.6 437.6L705.3 578.7M1221.2 437.6L1277 515M603.6 437.6L776.7 506.6M1221.2 437.6L1277 459.8M603.6 437.6L616 670M1221.2 437.6L1233.6 670M705.3 578.7L776.7 506.6M705.3 578.7L829.5 553M705.3 578.7L616 670M1277 625.6L1233.6 670M705.3 578.7L685.7 670M705.3 578.7L798.3 651.8M776.7 506.6L829.5 553M895.5 493.8L829.5 553M895.5 493.8L910.5 663.5M829.5 553L798.3 651.8M829.5 553L910.5 663.5M351.8 686.5L512.6 677.3M969.4 686.5L1130.2 677.3M351.8 686.5L322 674.9M969.4 686.5L910.5 663.5M351.8 686.5L322 710M969.4 686.5L874.5 761.4M512.6 677.3L616 670M1130.2 677.3L1233.6 670M512.6 677.3L541.4 750.1M1130.2 677.3L1159 750.1M616 670L685.7 670M1233.6 670L1277 670M616 670L541.4 750.1M1233.6 670L1159 750.1M616 670L652.6 762.1M1233.6 670L1270.2 762.1M685.7 670L652.6 762.1M1277 743.2L1270.2 762.1M685.7 670L718.9 818.2M685.7 670L798.3 651.8M685.7 670L830.1 760.8M541.4 750.1L652.6 762.1M1159 750.1L1270.2 762.1M652.6 762.1L718.9 818.2M1270.2 762.1L1277 767.9M718.9 818.2L830.1 760.8M798.3 651.8L910.5 663.5M798.3 651.8L830.1 760.8M798.3 651.8L874.5 761.4M910.5 663.5L874.5 761.4M830.1 760.8L874.5 761.4" fill="none" stroke="#10bcc8" stroke-width="1.38" stroke-linecap="butt"/>
</g>
</svg></body></html>
